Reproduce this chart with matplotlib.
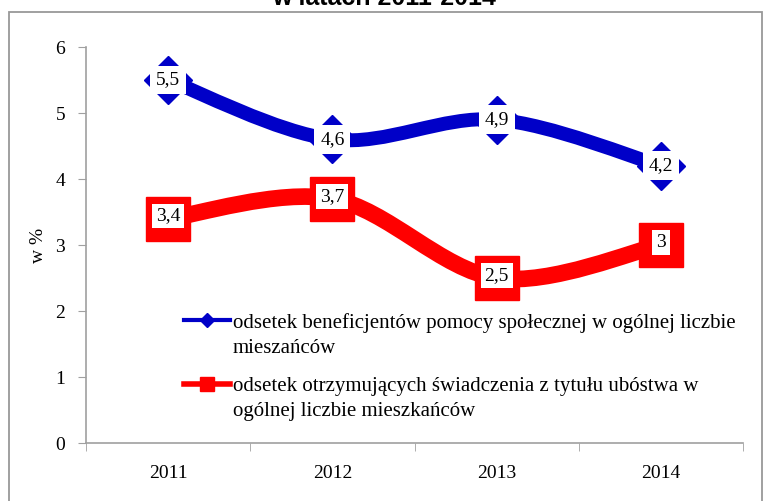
import matplotlib
matplotlib.use('Agg')
import matplotlib.pyplot as plt
from matplotlib.path import Path
from matplotlib.patches import PathPatch, Rectangle
from matplotlib.lines import Line2D

years = ['2011', '2012', '2013', '2014']
beneficjenci = [5.5, 4.6, 4.9, 4.2]
ubostwo = [3.4, 3.7, 2.5, 3.0]
label_ben = 'odsetek beneficjentów pomocy społecznej w ogólnej liczbie\nmieszańców'
label_ubo = 'odsetek otrzymujących świadczenia z tytułu ubóstwa w\nogólnej liczbie mieszkańców'
title = 'w latach 2011-2014'

blue = '#0000C8'
red = '#FF0000'
serif = 'Liberation Serif'


def smooth_path(xs, ys):
	# excel-like smoothed line: cubic bezier through the points
	pts = list(zip(xs, ys))
	n = len(pts)
	verts = [pts[0]]
	codes = [Path.MOVETO]
	for i in range(n - 1):
		p0 = pts[i - 1] if i > 0 else pts[i]
		p1 = pts[i]
		p2 = pts[i + 1]
		p3 = pts[i + 2] if i + 2 < n else pts[i + 1]
		c1 = (p1[0] + (p2[0] - p0[0]) / 6.0, p1[1] + (p2[1] - p0[1]) / 6.0)
		c2 = (p2[0] - (p3[0] - p1[0]) / 6.0, p2[1] - (p3[1] - p1[1]) / 6.0)
		verts += [c1, c2, p2]
		codes += [Path.CURVE4] * 3
	return Path(verts, codes)


def fmt(v):
	s = ('%.1f' % v).replace('.', ',')
	if s.endswith(',0'):
		s = s[:-2]
	return s


fig = plt.figure(figsize = (7.68, 5.01), dpi = 100)
ax = fig.add_axes([86 / 768, 58 / 501, (743 - 86) / 768, (443 - 47) / 501])

# outer chart border, cut by image bottom
fig.patches.append(Rectangle((9 / 768, -0.05), (762 - 9) / 768, 1.05 - 12 / 501,
	transform = fig.transFigure, fill = False, edgecolor = '#989898', linewidth = 1.3))
fig.text(0.5, 1 - 5 / 501, title, ha = 'center', va = 'baseline', fontsize = 18,
	fontweight = 'bold', family = 'Liberation Sans')

xs = list(range(len(years)))

ax.add_patch(PathPatch(smooth_path(xs, beneficjenci), fill = False, edgecolor = blue,
	linewidth = 10, capstyle = 'butt', zorder = 2))
ax.add_patch(PathPatch(smooth_path(xs, ubostwo), fill = False, edgecolor = red,
	linewidth = 12, capstyle = 'butt', zorder = 2))

ax.plot(xs, beneficjenci, linestyle = 'none', marker = 'D', markersize = 24,
	color = blue, zorder = 3)
ax.plot(xs, ubostwo, linestyle = 'none', marker = 's', markersize = 32,
	color = red, zorder = 3)

for x, v in zip(xs, beneficjenci):
	ax.text(x, v, fmt(v), ha = 'center', va = 'center', fontsize = 14, family = serif,
		zorder = 5, bbox = dict(boxstyle = 'square,pad=0.3', facecolor = 'white', edgecolor = 'none'))
for x, v in zip(xs, ubostwo):
	ax.text(x, v + 0.04, fmt(v), ha = 'center', va = 'center', fontsize = 14, family = serif,
		zorder = 5, bbox = dict(boxstyle = 'square,pad=0.2', facecolor = 'white', edgecolor = 'none'))

ax.set_xlim(-0.5, 3.5)
ax.set_ylim(0, 6)
ax.set_yticks(range(0, 7))
ax.set_xticks(xs)
ax.set_xticklabels(years)
ax.set_xticks([-0.5, 0.5, 1.5, 2.5, 3.5], minor = True)
ax.tick_params(axis = 'x', which = 'major', length = 0, pad = 16)
ax.tick_params(axis = 'x', which = 'minor', length = 6, color = '#A0A0A0', direction = 'out')
ax.tick_params(axis = 'y', length = 6, color = '#A0A0A0', pad = 9)
for lab in ax.get_xticklabels() + ax.get_yticklabels():
	lab.set_family(serif)
	lab.set_fontsize(14)
for side in ['top', 'right']:
	ax.spines[side].set_visible(False)
for side in ['left', 'bottom']:
	ax.spines[side].set_color('#A0A0A0')
	ax.spines[side].set_linewidth(1.2)
ax.set_ylabel('w %', family = serif, fontsize = 14, labelpad = 6)

handles = [Line2D([], [], color = blue, linewidth = 3, marker = 'D', markersize = 7),
	Line2D([], [], color = red, linewidth = 4, marker = 's', markersize = 10)]
leg = fig.legend(handles, [label_ben, label_ubo], loc = 'upper left',
	bbox_to_anchor = (184 / 768, 1 - 313 / 501), frameon = False,
	prop = {'family': serif, 'size': 15}, handlelength = 2.2, handletextpad = 0.15,
	labelspacing = 0.95, borderpad = 0, borderaxespad = 0)
for t in leg.get_texts():
	t.set_linespacing(1.4)
# put the handles next to the first line of each label
for h in leg.legend_handles:
	h.set_ydata([y + 0.7 * 15 for y in h.get_ydata()])

fig.savefig('out.png', dpi = 100)
